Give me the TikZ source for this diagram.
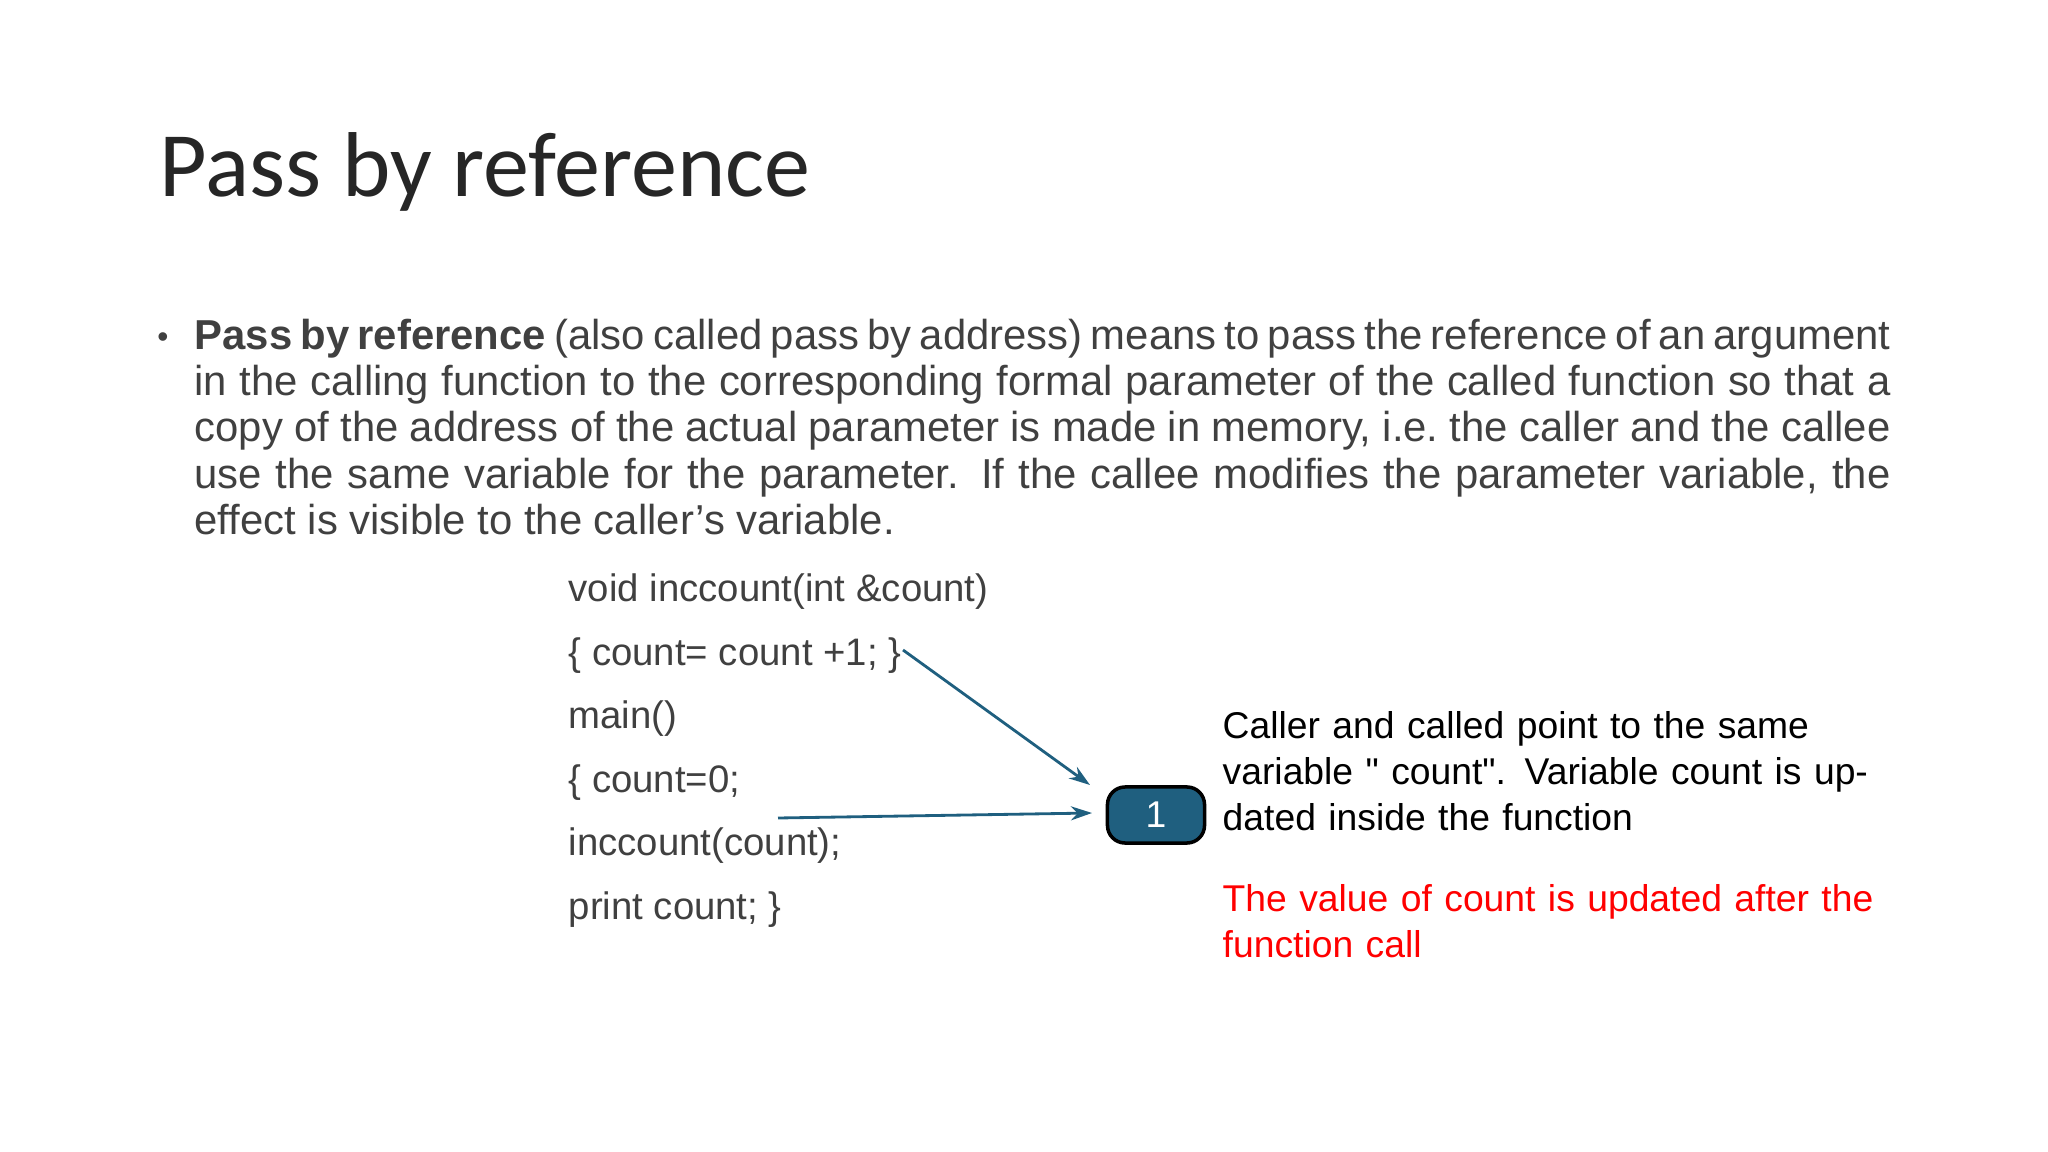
\documentclass[tikz,border=0pt]{standalone}
\usepackage{fontspec}
\setmainfont{Liberation Sans}
\newfontfamily\titlefont{Carlito}
\usetikzlibrary{arrows.meta}
\definecolor{bodygray}{HTML}{404040}
\definecolor{teal}{HTML}{1F5F7F}
\tikzset{
 codeline/.style={anchor=west,font=\fontsize{10.9pt}{13pt}\selectfont,text=bodygray,inner sep=0},
 note/.style={anchor=north west,align=left,font=\fontsize{10.6pt}{13pt}\selectfont,inner sep=0,text width=6.6cm},
 link/.style={draw=teal,line width=0.8pt,-{Stealth[length=6pt,width=4pt]}}
}
\begin{document}
\begin{tikzpicture}[x=0.01cm,y=-0.01cm]
\useasboundingbox (0,0) rectangle (2048,1152);
\node[anchor=west,inner sep=0,font=\titlefont\fontsize{26.2pt}{30pt}\selectfont,text=black!85] (title) at (159,172) {Pass by reference};
\node[anchor=center,inner sep=0,text=bodygray,font=\fontsize{9pt}{10pt}\selectfont] (bullet) at (163,340) {•};
\node[anchor=north west,inner sep=0,text width=16.95cm,align=justify,font=\fontsize{11.9pt}{13.2pt}\selectfont,text=bodygray] (para) at (194,318)
{\textbf{Pass by reference} (also called pass by address) means to pass the reference of an argument in the calling function to the corresponding formal parameter of the called function so that a copy of the address of the actual parameter is made in memory, i.e.\ the caller and the callee use the same variable for the parameter. If the callee modifies the parameter variable, the effect is visible to the caller’s variable.};
\node[codeline] (c1) at (568,592) {void inccount(int \&count)};
\node[codeline] (c2) at (568,656) {\{ count= count +1; \}};
\node[codeline] (c3) at (568,719) {main()};
\node[codeline] (c4) at (568,783) {\{ count=0;};
\node[codeline] (c5) at (568,846) {inccount(count);};
\node[codeline] (c6) at (568,910) {print count; \}};
\node[draw=black,fill=teal,rounded corners=5pt,line width=1pt,minimum width=0.97cm,minimum height=0.56cm,text=white,font=\fontsize{10.6pt}{13pt}\selectfont] (box) at (1156,815) {1};
\coordinate (a1) at (903,650);
\coordinate (t1) at (1090,785);
\coordinate (a2) at (778,818);
\coordinate (t2) at (1092,813);
\draw[link] (a1) -- (t1);
\draw[link] (a2) -- (t2);
\node[note,text=black] (n1) at (1222,711) {\raggedright Caller and called point to the same variable \textquotedbl\ count\textquotedbl. Variable count is updated inside the function};
\node[note,text=red] (n2) at (1222,884) {\raggedright The value of count is updated after the function call};
\end{tikzpicture}
\end{document}
